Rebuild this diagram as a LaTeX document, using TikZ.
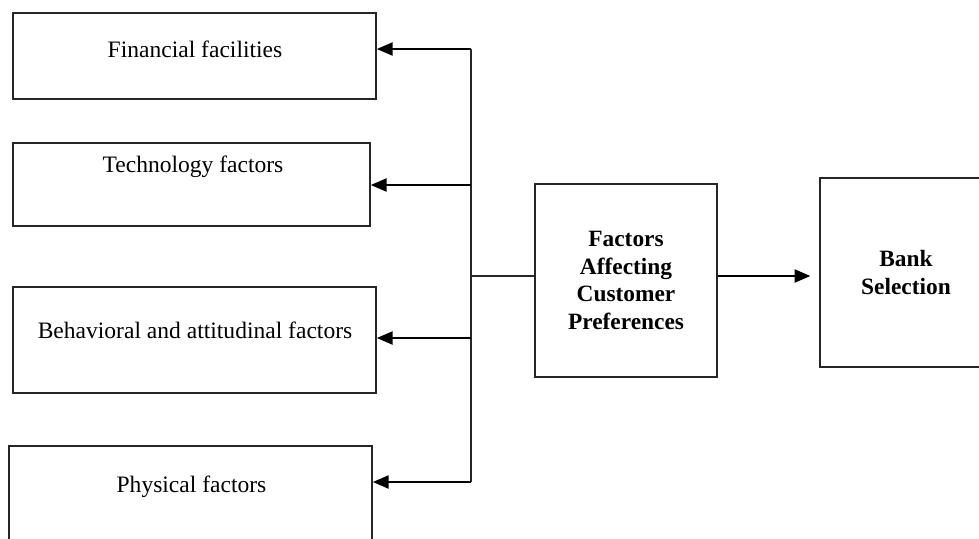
\documentclass[tikz,border=0pt]{standalone}
\usepackage{fontspec}
\setmainfont{Liberation Serif}
\usetikzlibrary{positioning,arrows.meta}

\begin{document}
\begin{tikzpicture}[
    x=0.02cm, y=-0.02cm,
    box/.style={draw=black!85, line width=1pt, inner sep=0pt},
    lbl/.style={font=\fontsize{13.4}{15.6}\selectfont, anchor=base},
    head/.style={font=\fontsize{13.3}{15.6}\selectfont\bfseries, align=center},
    wire/.style={draw=black!85, line width=1pt},
    arr/.style={-{Triangle[length=9pt,width=7.5pt]}, draw=black, line width=1pt}
  ]
  \fill[white] (0,0) rectangle (979,538);
  \useasboundingbox (0,0) rectangle (979,538);

  % Factor boxes
  \node[box, minimum width=7.26cm, minimum height=1.72cm] (fin) at (194.5,56) {};
  \node[lbl] (finT) at (195,57) {Financial facilities};

  \node[box, minimum width=7.14cm, minimum height=1.66cm] (tech) at (191.5,184.5) {};
  \node[lbl] (techT) at (193,172) {Technology factors};

  \node[box, minimum width=7.26cm, minimum height=2.12cm] (beh) at (194.5,340) {};
  \node[lbl] (behT) at (195,338) {Behavioral and attitudinal factors};

  \node[box, minimum width=7.26cm, minimum height=2.12cm] (phys) at (190.5,499) {};
  \node[lbl] (physT) at (191.5,492.5) {Physical factors};

  % Central and result boxes
  \node[box, head, minimum width=3.64cm, minimum height=3.86cm] (fac) at (626,280.5)
    {Factors\\Affecting\\Customer\\Preferences};
  \node[box, head, minimum width=3.44cm, minimum height=3.78cm] (bank) at (906,272.5)
    {Bank\\Selection};

  % Trunk
  \coordinate (t1) at (471,49);
  \coordinate (t2) at (471,185);
  \coordinate (t3) at (471,338);
  \coordinate (t4) at (471,482);
  \coordinate (tm) at (471,276);
  \draw[wire] (t1) -- (t4);
  \draw[arr] (t1) -- (t1 -| fin.east);
  \draw[arr] (t2) -- (t2 -| tech.east);
  \draw[arr] (t3) -- (t3 -| beh.east);
  \draw[arr] (t4) -- (t4 -| phys.east);

  % To the result
  \draw[wire] (tm) -- (tm -| fac.west);
  \coordinate (fo) at (tm -| fac.east);
  \draw[arr, shorten >=5pt] (fo) -- (fo -| bank.west);
\end{tikzpicture}
\end{document}
